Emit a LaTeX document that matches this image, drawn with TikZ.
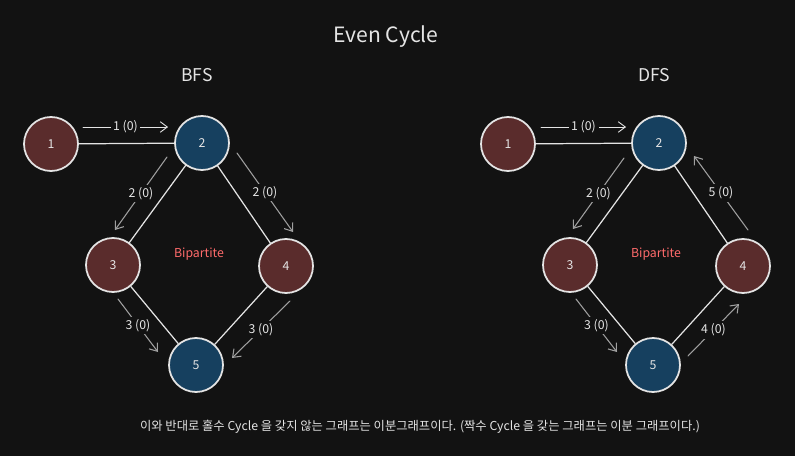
\documentclass[tikz,border=0pt]{standalone}
\usepackage{fontspec}
\setmainfont{Noto Sans CJK KR}
\usetikzlibrary{arrows.meta}
\definecolor{bg}{HTML}{121212}
\definecolor{redv}{HTML}{5A2C2C}
\definecolor{bluev}{HTML}{16405F}
\definecolor{ink}{HTML}{E4E4E4}
\definecolor{dim}{HTML}{A0A0A0}
\definecolor{mark}{HTML}{FF6B6B}
\tikzset{
	vert/.style={circle,draw=ink,line width=1pt,minimum size=1.08cm,inner sep=0pt,text=ink,font=\scriptsize},
	edge/.style={draw=ink,line width=0.7pt},
	flow/.style={->,draw=dim,line width=0.6pt},
	lbl/.style={fill=bg,text=ink,inner sep=1.5pt,font=\scriptsize}
}
\begin{document}
\begin{tikzpicture}[>={Straight Barb[length=4pt,width=6pt]},line join=round,line cap=round,font=\footnotesize,x=0.02cm,y=-0.02cm]
	\fill[bg] (0,0) rectangle (795,456);
	\node[text=ink,font=\large] (title) at (386,37) {Even Cycle};
	\node[text=ink,font=\normalsize] (bfs) at (197,75) {BFS};
	\node[text=ink,font=\normalsize] (dfs) at (654,75) {DFS};
	% two graphs, same shape
	\foreach \g/\dx in {L/0,R/457}{
		\node[vert,fill=redv] (\g1) at (\dx+51,144) {1};
		\node[vert,fill=bluev] (\g2) at (\dx+202,143) {2};
		\node[vert,fill=redv] (\g3) at (\dx+113,265) {3};
		\node[vert,fill=redv] (\g4) at (\dx+286,266) {4};
		\node[vert,fill=bluev] (\g5) at (\dx+196,365) {5};
		\node[text=mark,font=\scriptsize] (\g b) at (\dx+199,254) {Bipartite};
		\draw[edge] (\g1)--(\g2) (\g2)--(\g3) (\g2)--(\g4) (\g3)--(\g5) (\g4)--(\g5);
	}
	\coordinate (s1) at (83,127); \coordinate (e1) at (168,127);
	\draw[flow,draw=ink,line width=0.5pt] (s1) -- node[lbl] {1 (0)} (e1);
	\coordinate (s2) at (541,127); \coordinate (e2) at (626,127);
	\draw[flow,draw=ink,line width=0.5pt] (s2) -- node[lbl] {1 (0)} (e2);
	% visit order
	\foreach \n/\sx/\sy/\ex/\ey/\t in {a/167/157/115/230/2 (0), b/237/153/293/232/2 (0), c/118/299/158/352/3 (0), d/290/301/232/358/3 (0), e/624/158/573/229/2 (0), f/748/230/694/156/5 (0), g/576/299/617/352/3 (0), h/688/356/739/304/4 (0)}{
		\coordinate (s\n) at (\sx,\sy);
		\coordinate (e\n) at (\ex,\ey);
		\draw[flow] (s\n) -- node[lbl] {\t} (e\n);
	}
	\node[text=ink,font=\fontsize{7}{8}\selectfont] (note) at (420,427) {이와 반대로 홀수 Cycle 을 갖지 않는 그래프는 이분그래프이다. (짝수 Cycle 을 갖는 그래프는 이분 그래프이다.)};
\end{tikzpicture}
\end{document}
